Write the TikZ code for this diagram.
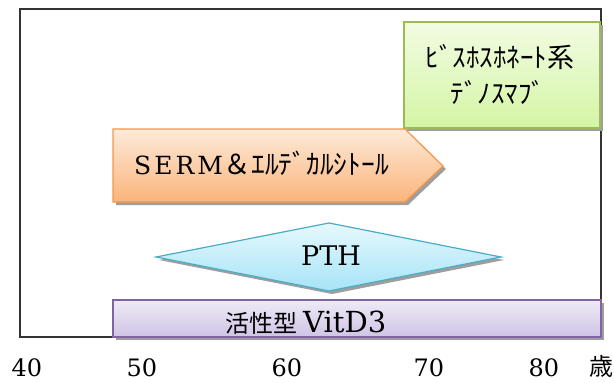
\documentclass[tikz,border=0pt]{standalone}
\usepackage{fontspec}
\setmainfont{DejaVu Serif}
\newfontfamily\jp{Noto Sans CJK JP}
\usetikzlibrary{shadows}
\definecolor{grnline}{RGB}{155,187,89}
\definecolor{grntop}{RGB}{242,252,226}
\definecolor{grnbot}{RGB}{212,245,165}
\definecolor{orgline}{RGB}{247,150,70}
\definecolor{orgtop}{RGB}{253,234,218}
\definecolor{orgbot}{RGB}{251,180,122}
\definecolor{blueline}{RGB}{75,172,198}
\definecolor{bluetop}{RGB}{230,248,253}
\definecolor{bluebot}{RGB}{166,228,247}
\definecolor{purpline}{RGB}{128,100,162}
\definecolor{purptop}{RGB}{238,234,246}
\definecolor{purpbot}{RGB}{208,196,230}
\tikzset{
  shad/.style={drop shadow={shadow xshift=3pt, shadow yshift=-3pt, fill=black!38, opacity=1}},
  grnbox/.style={shad, draw=grnline, line width=1.2pt, top color=grntop, bottom color=grnbot},
  orgbox/.style={shad, draw=orgline, line width=1.2pt, top color=orgtop, bottom color=orgbot},
  bluebox/.style={shad, draw=blueline, line width=1.2pt, top color=bluetop, bottom color=bluebot},
  purpbox/.style={shad, draw=purpline, line width=1.2pt, top color=purptop, bottom color=purpbot},
  jptxt/.style={inner sep=0pt, font=\jp\fontsize{27}{32}\selectfont},
  age/.style={inner sep=0pt, anchor=base, font=\fontsize{24}{28}\selectfont},
}
\begin{document}
\begin{tikzpicture}[x=1pt, y=-1pt]
  \useasboundingbox (0,0) rectangle (614,383);
  % outer frame
  \draw[black!80, line width=1.2pt] (20,9) rectangle (601,337);
  % bisphosphonate / denosumab
  \path[grnbox] (404,22) rectangle (600,128);
  \node[jptxt] (bisu) at (500,57) {ﾋﾞｽﾎｽﾎﾈｰﾄ系};
  \node[jptxt] (deno) at (498,92) {ﾃﾞﾉｽﾏﾌﾞ};
  % SERM arrow
  \path[orgbox] (113,129) -- (405,129) -- (443,166) -- (405,202) -- (113,202) -- cycle;
  \node[inner sep=0pt, anchor=base west] (serm) at (134,174)
    {{\fontsize{25}{30}\selectfont S\kern3pt E\kern3pt R\kern3pt M\kern1pt}{\jp\fontsize{27.5}{30}\selectfont ＆ｴﾙﾃﾞｶﾙｼﾄｰﾙ}};
  % PTH
  \path[bluebox] (156,257) -- (329,223) -- (501,257) -- (329,291) -- cycle;
  \node[inner sep=0pt, anchor=base, font=\fontsize{27}{32}\selectfont] (pth) at (331,265) {PTH};
  % active vitamin D3
  \path[purpbox] (113,300) rectangle (601,337);
  \node[inner sep=0pt, anchor=base west] (vitd) at (225,332)
    {{\jp\fontsize{24}{28}\selectfont 活性型}\kern6pt{\fontsize{29}{32}\selectfont VitD3}};
  % age axis
  \foreach \xx/\yr in {27/40, 142/50, 287/60, 429/70, 544/80}
    \node[age] (a\yr) at (\xx,376) {\yr};
  \node[age, font=\jp\fontsize{24}{28}\selectfont] (sai) at (601,375) {歳};
\end{tikzpicture}
\end{document}
